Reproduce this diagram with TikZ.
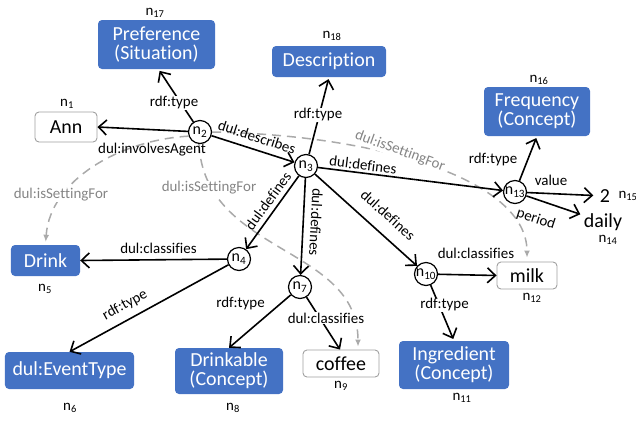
\documentclass[tikz,border=0pt]{standalone}
\usepackage{fontspec}
\setmainfont{Carlito}[Ligatures=NoCommon]
\usetikzlibrary{arrows.meta}
\definecolor{boxblue}{HTML}{4472C4}
\definecolor{dashgray}{HTML}{AAAAAA}
\definecolor{labgray}{HTML}{858585}
\definecolor{boxgray}{HTML}{A0A0A0}
\begin{document}
\begin{tikzpicture}[x=1bp,y=-1bp,
 bluebox/.style={fill=boxblue, text=white, rounded corners=4bp, align=center, inner sep=0pt, font=\fontsize{20}{19}\selectfont},
 whitebox/.style={draw=boxgray, line width=0.9bp, fill=white, rounded corners=4bp, inner sep=0pt, font=\fontsize{20}{19}\selectfont},
 circ/.style={circle, draw, line width=1.2bp, minimum size=23bp, inner sep=0pt, fill=white, font=\fontsize{16}{18}\selectfont},
 lit/.style={inner sep=1.5bp, font=\fontsize{20}{22}\selectfont},
 nlab/.style={inner sep=0pt, font=\fontsize{15}{17}\selectfont},
 elab/.style={inner sep=1bp, font=\fontsize{15}{17}\selectfont},
 slab/.style={inner sep=1bp, text=labgray, fill=white, font=\fontsize{15}{17}\selectfont},
 rel/.style={line width=1.6bp, -{Straight Barb[length=8bp,width=15bp]}},
 setfor/.style={dashgray, line width=1.5bp, dash pattern=on 9bp off 6bp, -{Latex[length=7bp,width=6bp]}},
]
\useasboundingbox (0,0) rectangle (636,424);

% class / concept boxes
\node[bluebox, minimum width=117bp, minimum height=49bp] (n17) at (156.5,44.5) {Preference\\(Situation)};
\node[bluebox, minimum width=114bp, minimum height=31bp] (n18) at (329,61.5) {Description};
\node[bluebox, minimum width=106bp, minimum height=49bp] (n16) at (537,111.5) {Frequency\\(Concept)};
\node[bluebox, minimum width=69bp, minimum height=31bp] (n5) at (45.5,260.5) {Drink};
\node[bluebox, minimum width=129bp, minimum height=37bp] (n6) at (69.5,370.5) {dul:EventType};
\node[bluebox, minimum width=108bp, minimum height=46bp] (n8) at (229,371) {Drinkable\\(Concept)};
\node[bluebox, minimum width=110bp, minimum height=48bp] (n11) at (454,365) {Ingredient\\(Concept)};
\node[whitebox, minimum width=62bp, minimum height=30bp] (n1) at (66,127) {Ann};
\node[whitebox, minimum width=60bp, minimum height=27bp] (n12) at (527,275.5) {milk};
\node[whitebox, minimum width=76bp, minimum height=27bp] (n9) at (341,363.5) {coffee};

% blank nodes
\node[circ] (n2) at (200,132) {n\textsubscript{2}};
\node[circ] (n3) at (306,166) {n\textsubscript{3}};
\node[circ] (n4) at (239,259) {n\textsubscript{4}};
\node[circ] (n7) at (300,287) {n\textsubscript{7}};
\node[circ] (n10) at (426,274) {n\textsubscript{10}};
\node[circ] (n13) at (515,192) {n\textsubscript{13}};

% literals
\node[lit] (v2) at (605,196) {2};
\node[lit] (daily) at (603,222) {daily};

% node ids
\node[nlab] (l17) at (155,13) {n\textsubscript{17}};
\node[nlab] (l18) at (332,36) {n\textsubscript{18}};
\node[nlab] (l1) at (67,104) {n\textsubscript{1}};
\node[nlab] (l16) at (539,80) {n\textsubscript{16}};
\node[nlab] (l5) at (45,289) {n\textsubscript{5}};
\node[nlab] (l6) at (70,408) {n\textsubscript{6}};
\node[nlab] (l8) at (233,408) {n\textsubscript{8}};
\node[nlab] (l9) at (341,386) {n\textsubscript{9}};
\node[nlab] (l11) at (462,398) {n\textsubscript{11}};
\node[nlab] (l12) at (532,298) {n\textsubscript{12}};
\node[nlab] (l14) at (608,240) {n\textsubscript{14}};
\node[nlab] (l15) at (628,196) {n\textsubscript{15}};

% isSettingFor (dashed)
\draw[setfor, shorten >=3bp] (n2.200) .. controls (120,140) and (50,180) .. (n5.north);
\draw[setfor, shorten >=3bp] (n2.265) .. controls (205,255) and (358,245) .. ([xshift=17bp]n9.north);
\draw[setfor, shorten >=4bp] (n2.0) .. controls (380,135) and (527,180) .. (n12.north);
\node[slab] (s1) at (61,195) {dul:isSettingFor};
\node[slab] (s2) at (209,188) {dul:isSettingFor};
\node[slab, rotate=-20] (s3) at (400,151) {dul:isSettingFor};

% relations
\draw[rel, shorten >=2bp] (n2) -- ([xshift=2bp]n17.south);
\draw[rel] (n2) -- (n1.east);
\draw[rel] (n2) -- (n3);
\draw[rel, shorten >=2bp] (n3) -- (n18.south);
\draw[rel] (n3) -- (n13);
\draw[rel] (n3) -- (n4);
\draw[rel] (n3) -- (n7);
\draw[rel] (n3) -- (n10);
\draw[rel] (n4) -- (n5.east);
\draw[rel] (n4) -- (n6.north);
\draw[rel] (n7) -- (n8.north);
\draw[rel] (n7) -- ([xshift=-1bp]n9.north);
\draw[rel] (n10) -- (n12.west);
\draw[rel, shorten >=2bp] (n10) -- (n11.north);
\draw[rel, shorten >=2bp] (n13) -- (n16.south);
\draw[rel, shorten >=5bp] (n13) -- (v2);
\draw[rel, shorten >=2bp] (n13) -- (daily);

% relation labels
\node[elab, fill=white] (e1) at (174,103) {rdf:type};
\node[elab] (e2) at (152,150) {dul:involvesAgent};
\node[elab, rotate=-18] (e3) at (257,137) {dul:describes};
\node[elab, fill=white] (e4) at (318,115) {rdf:type};
\node[elab, rotate=-7] (e5) at (363,165) {dul:defines};
\node[elab, rotate=54] (e6) at (268,201) {dul:defines};
\node[elab, rotate=-93] (e7) at (316,222) {dul:defines};
\node[elab, rotate=-42] (e8) at (388,215) {dul:defines};
\node[elab] (e9) at (158.5,248) {dul:classifies};
\node[elab, rotate=29] (e10) at (125,305) {rdf:type};
\node[elab] (e11) at (240.5,304) {rdf:type};
\node[elab, fill=white] (e12) at (326,318) {dul:classifies};
\node[elab] (e13) at (476,253) {dul:classifies};
\node[elab, fill=white] (e14) at (444.5,305) {rdf:type};
\node[elab] (e15) at (493,160) {rdf:type};
\node[elab] (e16) at (551,180) {value};
\node[elab, rotate=-18] (e17) at (536,219) {period};
\end{tikzpicture}
\end{document}
